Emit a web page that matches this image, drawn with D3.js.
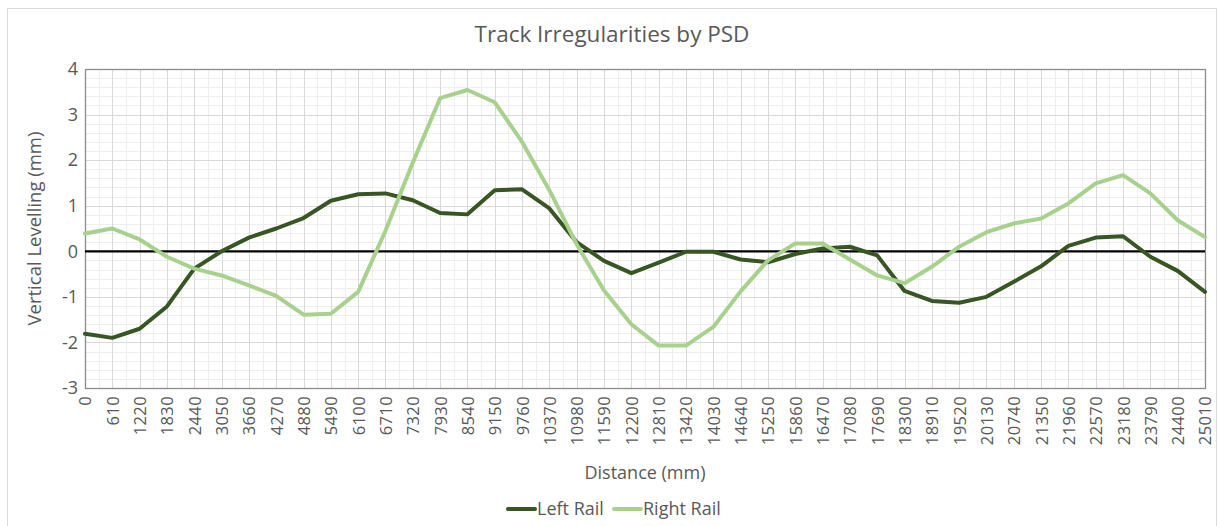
<!DOCTYPE html>
<html>
<head>
<meta charset="utf-8">
<script src="https://cdn.jsdelivr.net/npm/d3@7"></script>
<style>
  html, body { margin: 0; padding: 0; background: #ffffff; }
  svg text { font-family: "Open Sans", "Liberation Sans", sans-serif; fill: #595959; }
</style>
</head>
<body>
<svg id="chart" width="1219" height="526"></svg>
<script>
// Distance along the track (mm), one sample every 610 mm
const distances = [0, 610, 1220, 1830, 2440, 3050, 3660, 4270, 4880, 5490, 6100, 6710, 7320, 7930,
  8540, 9150, 9760, 10370, 10980, 11590, 12200, 12810, 13420, 14030, 14640, 15250, 15860, 16470,
  17080, 17690, 18300, 18910, 19520, 20130, 20740, 21350, 21960, 22570, 23180, 23790, 24400, 25010];

// Vertical levelling (mm) per rail
const leftRail = [-1.81, -1.90, -1.70, -1.21, -0.38, 0.00, 0.30, 0.50, 0.73, 1.11, 1.25, 1.27, 1.12, 0.84,
  0.81, 1.34, 1.36, 0.94, 0.20, -0.21, -0.48, -0.25, -0.01, -0.01, -0.18, -0.24, -0.06, 0.06,
  0.10, -0.09, -0.87, -1.09, -1.13, -1.00, -0.67, -0.33, 0.12, 0.30, 0.33, -0.12, -0.43, -0.89];
const rightRail = [0.39, 0.50, 0.26, -0.12, -0.38, -0.53, -0.75, -0.98, -1.39, -1.37, -0.89, 0.45, 1.95, 3.36,
  3.54, 3.27, 2.40, 1.34, 0.15, -0.86, -1.60, -2.07, -2.07, -1.66, -0.88, -0.20, 0.17, 0.17,
  -0.18, -0.53, -0.70, -0.34, 0.10, 0.42, 0.61, 0.72, 1.05, 1.49, 1.67, 1.27, 0.68, 0.31];

const yTicks = [-3, -2, -1, 0, 1, 2, 3, 4];
const seriesNames = ["Left Rail", "Right Rail"];
const seriesColors = ["#375623", "#a9d18e"];

const svg = d3.select("#chart");
const plot = { left: 85, right: 1205, top: 69, bottom: 388 };

const x = d3.scalePoint().domain(distances).range([plot.left, plot.right]);
const y = d3.scaleLinear().domain([-3, 4]).range([plot.bottom, plot.top]);

// Outer chart frame
svg.append("rect")
  .attr("x", 7.5).attr("y", 8.5).attr("width", 1209).attr("height", 530)
  .attr("fill", "#fff").attr("stroke", "#d9d9d9").attr("stroke-width", 1);

// Title
svg.append("text")
  .attr("x", 612).attr("y", 42)
  .attr("text-anchor", "middle")
  .style("font-size", "22.5px")
  .text("Track Irregularities by PSD");

const grid = svg.append("g");

// Minor horizontal grid (0.2 mm)
const minorY = d3.range(-3, 4.0001, 0.2).filter(v => Math.abs(v - Math.round(v)) > 1e-6);
grid.selectAll(".minor-h").data(minorY).join("line")
  .attr("x1", plot.left).attr("x2", plot.right)
  .attr("y1", d => Math.round(y(d)) + 0.5).attr("y2", d => Math.round(y(d)) + 0.5)
  .attr("stroke", "#eeeeee");

// Minor vertical grid halfway between samples
const minorX = distances.slice(0, -1).map((d, i) => (x(d) + x(distances[i + 1])) / 2);
grid.selectAll(".minor-v").data(minorX).join("line")
  .attr("x1", d => Math.round(d) + 0.5).attr("x2", d => Math.round(d) + 0.5)
  .attr("y1", plot.top).attr("y2", plot.bottom)
  .attr("stroke", "#eeeeee");

// Major grid
grid.selectAll(".major-h").data(yTicks).join("line")
  .attr("x1", plot.left).attr("x2", plot.right)
  .attr("y1", d => Math.round(y(d)) + 0.5).attr("y2", d => Math.round(y(d)) + 0.5)
  .attr("stroke", "#d9d9d9");
grid.selectAll(".major-v").data(distances).join("line")
  .attr("x1", d => Math.round(x(d)) + 0.5).attr("x2", d => Math.round(x(d)) + 0.5)
  .attr("y1", plot.top).attr("y2", plot.bottom)
  .attr("stroke", "#d9d9d9");

// Plot area border
svg.append("rect")
  .attr("x", plot.left + 0.5).attr("y", plot.top + 0.5)
  .attr("width", plot.right - plot.left).attr("height", plot.bottom - plot.top)
  .attr("fill", "none").attr("stroke", "#8c8c8c").attr("stroke-width", 1.3);

// Zero line
svg.append("line")
  .attr("x1", plot.left).attr("x2", plot.right)
  .attr("y1", y(0)).attr("y2", y(0))
  .attr("stroke", "#000").attr("stroke-width", 2.2);

// Y axis labels (plain hyphen for negatives)
const yAxis = d3.axisLeft(y).tickValues(yTicks).tickFormat(d => String(d)).tickSize(0).tickPadding(0);
const gy = svg.append("g").attr("transform", `translate(${plot.left - 7},0)`).call(yAxis);
gy.select(".domain").remove();
gy.selectAll("text").style("font-size", "18px").style("font-family", null).attr("fill", null);

// X axis labels, rotated
const xAxis = d3.axisBottom(x).tickSize(0).tickPadding(0);
const gx = svg.append("g").attr("transform", `translate(0,${plot.bottom + 8})`).call(xAxis);
gx.select(".domain").remove();
gx.selectAll("text")
  .style("font-size", "16.5px").style("font-family", null).attr("fill", null)
  .style("letter-spacing", "0.4px")
  .attr("text-anchor", "end")
  .attr("transform", "rotate(-90)")
  .attr("x", 0).attr("y", 0).attr("dy", "0.36em");

// Axis titles
svg.append("text")
  .attr("transform", `translate(41,${(plot.top + plot.bottom) / 2}) rotate(-90)`)
  .attr("text-anchor", "middle")
  .style("font-size", "18.5px")
  .text("Vertical Levelling (mm)");
svg.append("text")
  .attr("x", 645).attr("y", 479)
  .attr("text-anchor", "middle")
  .style("font-size", "18px")
  .text("Distance (mm)");

// Series lines
const line = d3.line().x((d, i) => x(distances[i])).y(d => y(d));
[leftRail, rightRail].forEach((vals, k) => {
  svg.append("path")
    .datum(vals)
    .attr("d", line)
    .attr("fill", "none")
    .attr("stroke", seriesColors[k])
    .attr("stroke-width", 4)
    .attr("stroke-linejoin", "round")
    .attr("stroke-linecap", "round");
});

// Legend
const legendX = [508, 614];
seriesNames.forEach((name, k) => {
  const g = svg.append("g").attr("transform", `translate(${legendX[k]},509)`);
  g.append("line").attr("x1", 0).attr("x2", 27).attr("y1", 0).attr("y2", 0)
    .attr("stroke", seriesColors[k]).attr("stroke-width", 4).attr("stroke-linecap", "round");
  g.append("text").attr("x", 29).attr("y", 0).attr("dy", "0.35em")
    .style("font-size", "18px").text(name);
});
</script>
</body>
</html>
